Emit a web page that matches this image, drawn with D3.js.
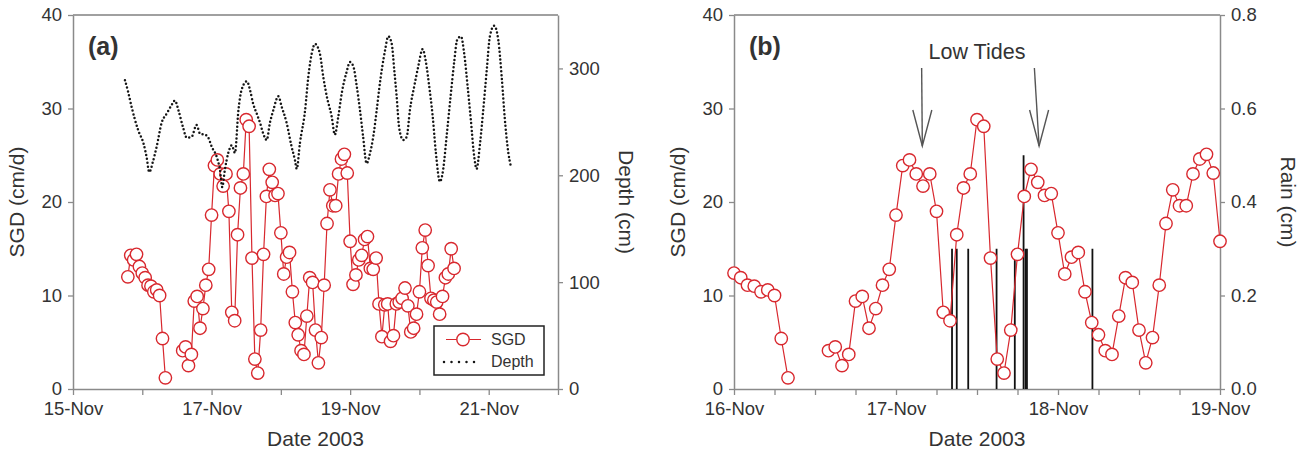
<!DOCTYPE html>
<html>
<head>
<meta charset="utf-8">
<script src="https://cdn.jsdelivr.net/npm/d3@7"></script>
<style>
body { margin: 0; background: #fff; }
svg { display: block; }
text { font-family: "Liberation Sans", Arial, sans-serif; fill: #333; }
</style>
</head>
<body>
<div id="chart"></div>
<script>
/********************************** data ***************************************/
// hours after 16-Nov-2003 00:00
var sgdHour = [-5, -4, -3, -2, -1, 0, 1, 2, 3, 4, 5, 6, 7, 8,
	14, 15, 16, 17, 18, 19, 20, 21, 22, 23, 24, 25, 26, 27, 28, 29, 30, 31, 32, 33, 34, 35, 36, 37, 38, 39,
	40, 41, 42, 43, 44, 45, 46, 47, 48, 49, 50, 51, 52, 53, 54, 55, 56, 57, 58, 59, 60, 61, 62, 63, 64, 65,
	66, 67, 68, 69, 70, 71, 72, 73, 74, 75, 76, 77, 78, 79, 80, 81, 82, 83, 84, 85, 86, 87, 88, 89, 90, 91,
	92, 93, 94, 95, 96, 97, 98, 99, 100, 101, 102, 103, 104, 105, 106, 107, 108];
var sgdValue = [12.0, 14.3, 13.8, 14.4, 13.1, 12.4, 11.9, 11.1, 11.0, 10.4, 10.6, 10.0, 5.4, 1.2,
	4.1, 4.5, 2.5, 3.7, 9.4, 9.9, 6.5, 8.6, 11.1, 12.8, 18.6, 23.9, 24.5, 23.0, 21.7, 23.0, 19.0, 8.2, 7.3, 16.5, 21.5, 23.0, 28.8, 28.1, 14.0, 3.2,
	1.7, 6.3, 14.4, 20.6, 23.5, 22.1, 20.7, 20.9, 16.7, 12.3, 14.1, 14.6, 10.4, 7.1, 5.8, 4.1, 3.7, 7.8, 11.9, 11.4, 6.3, 2.8, 5.5, 11.1, 17.7, 21.3,
	19.6, 19.6, 23.0, 24.6, 25.1, 23.1, 15.8, 11.2, 12.2, 13.8, 14.3, 16.0, 16.3, 12.9, 12.8, 14.0, 9.1, 5.6, 9.0, 9.1, 5.1, 5.7, 9.1, 9.3, 9.7, 10.8,
	8.9, 6.1, 6.5, 8.0, 10.4, 15.1, 17.0, 13.2, 9.7, 9.5, 9.3, 8.0, 9.9, 11.9, 12.3, 15.0, 12.9];

var depthHour = [-6.0, -4.9, -3.7, -1.4, 0.4, 1.5, 2.4, 3.8, 5.0, 6.7, 8.5, 10.2, 11.3, 12.5, 14.2, 15.4, 17.1, 18.8,
	20.0, 21.7, 22.9, 24.0, 25.8, 26.9, 27.7, 28.6, 29.8, 31.0, 32.1, 33.3, 34.4, 36.2, 37.3, 38.4, 39.6, 40.8,
	41.9, 43.1, 44.2, 45.4, 47.1, 48.3, 50.0, 51.7, 52.9, 53.5, 54.6, 56.4, 57.5, 58.7, 59.8, 61.5, 62.7, 63.9,
	65.6, 66.7, 67.9, 69.1, 70.8, 71.9, 73.1, 74.3, 75.4, 76.5, 77.7, 78.9, 80.0, 81.2, 82.3, 84.1, 85.2, 86.4,
	87.3, 88.1, 89.0, 90.4, 91.6, 92.7, 94.4, 95.6, 97.1, 98.3, 99.4, 100.6, 101.7, 103.1, 104.2, 105.4, 106.8,
	108.0, 109.1, 110.4, 111.5, 112.7, 113.8, 115.0, 115.8, 117.0, 118.1, 119.3, 120.4, 121.9, 123.3, 124.5,
	125.6, 126.8, 127.7];
var depthValue = [289, 278, 264, 242, 230, 217, 203, 214, 227, 249, 258, 266, 270, 261, 244, 235, 236, 247,
	239, 238, 235, 227, 217, 205, 189, 205, 221, 228, 221, 261, 280, 288, 280, 267, 258, 249,
	239, 233, 249, 261, 274, 264, 249, 227, 214, 206, 230, 261, 292, 314, 323, 314, 292, 274,
	255, 238, 255, 277, 297, 306, 302, 283, 261, 236, 211, 221, 236, 261, 286, 317, 330, 323,
	298, 274, 244, 233, 236, 261, 286, 302, 318, 305, 283, 255, 221, 194, 205, 236, 274,
	305, 327, 330, 314, 283, 252, 217, 206, 230, 261, 298, 330, 340, 327, 292,
	252, 221, 208];

var rainHour = [32.3, 33.0, 34.7, 38.9, 41.6, 42.9, 43.2, 43.4, 53.1];
var rainValue = [0.3, 0.3, 0.3, 0.3, 0.3, 0.5, 0.3, 0.3, 0.3];

var tideTopHour = [27.8, 44.5];
var tideTipHour = [27.9, 45.2];

var sgdTicks = [0, 10, 20, 30, 40];
var depthTicks = [0, 100, 200, 300];
var rainTicks = [0, 0.2, 0.4, 0.6, 0.8];

/******************************** helpers **************************************/
var base = new Date(2003, 10, 16, 0, 0);
function toDate(h) { return new Date(base.getTime() + h * 3600e3); }

var red = "#d8282e";
var axisGray = "#8a8a8a";

var svg = d3.select("#chart").append("svg")
	.attr("width", 1301)
	.attr("height", 452);

function styleAxis(g) {
	g.selectAll(".domain").attr("stroke", axisGray).attr("stroke-width", 1.5);
	g.selectAll(".tick line").attr("stroke", axisGray).attr("stroke-width", 1.3);
	g.selectAll(".tick text").style("font-size", "18.5px").attr("fill", "#333");
}

function sgdSegments(pts) {
	// break the line where the record has a gap
	var segs = [], cur = [];
	pts.forEach(function(p, i) {
		if (i > 0 && p.h - pts[i - 1].h > 2) { segs.push(cur); cur = []; }
		cur.push(p);
	});
	segs.push(cur);
	return segs;
}

/******************************** draw panel ***********************************/
function panel(cfg) {
	var left = cfg.left, right = cfg.right, top = 15, bottom = 389;
	var g = svg.append("g");

	var x = d3.scaleTime().domain(cfg.xDomain).range([left, right]);
	var y = d3.scaleLinear().domain([0, 40]).range([bottom, top]);
	var y2 = d3.scaleLinear().domain(cfg.y2Domain).range([bottom, top]);

	// frame
	g.append("line").attr("x1", left).attr("x2", right).attr("y1", top).attr("y2", top)
		.attr("stroke", "#a0a0a0").attr("stroke-width", 2);

	var ax = g.append("g").attr("transform", "translate(0," + bottom + ")")
		.call(d3.axisBottom(x).tickValues(cfg.xTicks).tickSize(6).tickSizeOuter(0).tickPadding(7)
			.tickFormat(cfg.xFormat));
	styleAxis(ax);

	var ay = g.append("g").attr("transform", "translate(" + left + ",0)")
		.call(d3.axisLeft(y).tickValues(sgdTicks).tickSize(5).tickSizeOuter(0).tickPadding(6));
	styleAxis(ay);

	var ay2 = g.append("g").attr("transform", "translate(" + right + ",0)")
		.call(d3.axisRight(y2).tickValues(cfg.y2Ticks).tickSize(5).tickSizeOuter(0).tickPadding(6)
			.tickFormat(cfg.y2Format));
	styleAxis(ay2);

	// titles
	g.append("text").attr("x", (left + right) / 2).attr("y", 446)
		.attr("text-anchor", "middle").style("font-size", "21px").text("Date 2003");
	g.append("text").attr("transform", "translate(" + (left - 49) + ",202) rotate(-90)")
		.attr("text-anchor", "middle").style("font-size", "21px").text("SGD (cm/d)");
	g.append("text").attr("transform", "translate(" + (right + cfg.y2TitleOff) + ",202) rotate(90)")
		.attr("text-anchor", "middle").style("font-size", "21px").text(cfg.y2Title);
	g.append("text").attr("x", left + 15).attr("y", 55)
		.style("font-size", "25px").style("font-weight", "bold").attr("fill", "#111").text(cfg.tag);

	// rain bars
	if (cfg.rain) {
		g.selectAll(".rain").data(cfg.rain).enter().append("line")
			.attr("class", "rain")
			.attr("x1", function(d) { return x(toDate(d.h)); })
			.attr("x2", function(d) { return x(toDate(d.h)); })
			.attr("y1", y2(0))
			.attr("y2", function(d) { return y2(d.v); })
			.attr("stroke", "#111").attr("stroke-width", 1.8);
	}

	// SGD series
	var line = d3.line()
		.x(function(d) { return x(toDate(d.h)); })
		.y(function(d) { return y(d.v); });

	g.selectAll(".sgdLine").data(sgdSegments(cfg.sgd)).enter().append("path")
		.attr("class", "sgdLine")
		.attr("d", line)
		.attr("fill", "none").attr("stroke", red).attr("stroke-width", 1.2);

	g.selectAll(".sgdDot").data(cfg.sgd).enter().append("circle")
		.attr("class", "sgdDot")
		.attr("cx", function(d) { return x(toDate(d.h)); })
		.attr("cy", function(d) { return y(d.v); })
		.attr("r", 6.2)
		.attr("fill", "#fff").attr("stroke", red).attr("stroke-width", 1.4);

	// depth series (dotted)
	if (cfg.depth) {
		g.append("path").datum(cfg.depth)
			.attr("d", d3.line()
				.curve(d3.curveMonotoneX)
				.x(function(d) { return x(toDate(d.h)); })
				.y(function(d) { return y2(d.v); }))
			.attr("fill", "none").attr("stroke", "#151515").attr("stroke-width", 2.5)
			.attr("stroke-linecap", "round").attr("stroke-dasharray", "0 3.9");
	}
	return { g: g, x: x, y: y };
}

var sgdAll = sgdHour.map(function(h, i) { return { h: h, v: sgdValue[i] }; });
var depthAll = depthHour.map(function(h, i) { return { h: h, v: depthValue[i] }; });
var rainAll = rainHour.map(function(h, i) { return { h: h, v: rainValue[i] }; });

/******************************** panel (a) ************************************/
var pa = panel({
	left: 73, right: 558, tag: "(a)",
	xDomain: [new Date(2003, 10, 15), new Date(2003, 10, 22)],
	xTicks: d3.timeDay.range(new Date(2003, 10, 15), new Date(2003, 10, 22, 1)),
	xFormat: function(d) { return (d.getDate() % 2 == 1) ? d3.timeFormat("%-d-%b")(d) : ""; },
	y2Domain: [0, 350], y2Ticks: depthTicks, y2Format: d3.format("d"),
	y2Title: "Depth (cm)", y2TitleOff: 61,
	sgd: sgdAll, depth: depthAll
});

// legend
var lg = pa.g.append("g");
lg.append("rect").attr("x", 434).attr("y", 326).attr("width", 110).attr("height", 49)
	.attr("fill", "#fff").attr("stroke", "#222").attr("stroke-width", 1.5);
lg.append("line").attr("x1", 446).attr("x2", 481).attr("y1", 339.5).attr("y2", 339.5)
	.attr("stroke", red).attr("stroke-width", 1.2);
lg.append("circle").attr("cx", 463).attr("cy", 339.5).attr("r", 6.2)
	.attr("fill", "#fff").attr("stroke", red).attr("stroke-width", 1.4);
lg.append("line").attr("x1", 444).attr("x2", 479).attr("y1", 362).attr("y2", 362)
	.attr("stroke", "#151515").attr("stroke-width", 2.5)
	.attr("stroke-linecap", "round").attr("stroke-dasharray", "0 7.5");
lg.append("text").attr("x", 491).attr("y", 345).style("font-size", "16px").text("SGD");
lg.append("text").attr("x", 491).attr("y", 367).style("font-size", "16px").text("Depth");

/******************************** panel (b) ************************************/
var pb = panel({
	left: 734, right: 1220, tag: "(b)",
	xDomain: [new Date(2003, 10, 16), new Date(2003, 10, 19)],
	xTicks: d3.timeHour.every(6).range(new Date(2003, 10, 16), new Date(2003, 10, 19, 1)),
	xFormat: function(d) { return d.getHours() == 0 ? d3.timeFormat("%-d-%b")(d) : ""; },
	y2Domain: [0, 0.8], y2Ticks: rainTicks, y2Format: d3.format(".1f"),
	y2Title: "Rain (cm)", y2TitleOff: 61,
	sgd: sgdAll.filter(function(d) { return d.h >= 0 && d.h <= 72; }),
	rain: rainAll
});

// low tide arrows
pb.g.append("text").attr("x", 977).attr("y", 59).attr("text-anchor", "middle")
	.style("font-size", "21.5px").text("Low Tides");
tideTipHour.forEach(function(h, i) {
	var xt = pb.x(toDate(tideTopHour[i])), xb = pb.x(toDate(h));
	var a = pb.g.append("g").attr("stroke", "#555").attr("stroke-width", 1.4).attr("fill", "none");
	a.append("line").attr("x1", xt).attr("y1", 68).attr("x2", xb).attr("y2", 146);
	a.append("polyline").attr("points", [[xb - 9.5, 110], [xb, 146], [xb + 9.5, 110]].join(" "));
});
</script>
</body>
</html>
